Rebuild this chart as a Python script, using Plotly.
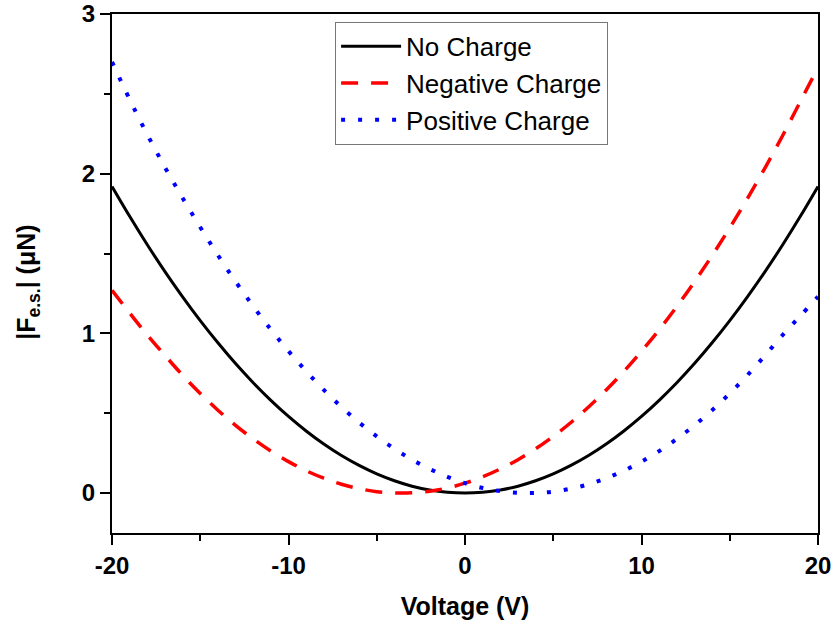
import plotly.graph_objects as go

voltage = list(range(-20, 21))
no_charge = [1.920, 1.733, 1.555, 1.387, 1.229, 1.080, 0.941, 0.811, 0.691, 0.581,
             0.480, 0.389, 0.307, 0.235, 0.173, 0.120, 0.077, 0.043, 0.019, 0.005,
             0.000,
             0.005, 0.019, 0.043, 0.077, 0.120, 0.173, 0.235, 0.307, 0.389, 0.480,
             0.581, 0.691, 0.811, 0.941, 1.080, 1.229, 1.387, 1.555, 1.733, 1.920]
negative_charge = [1.270, 1.128, 0.990, 0.862, 0.738, 0.624, 0.519, 0.424, 0.339, 0.263,
                   0.197, 0.140, 0.093, 0.055, 0.028, 0.009, 0.001, 0.002, 0.012, 0.032,
                   0.062,
                   0.102, 0.151, 0.209, 0.277, 0.355, 0.442, 0.539, 0.646, 0.762, 0.888,
                   1.023, 1.168, 1.323, 1.487, 1.661, 1.844, 2.037, 2.239, 2.452, 2.665]
positive_charge = [2.700, 2.465, 2.245, 2.040, 1.848, 1.665, 1.490, 1.325, 1.170, 1.024,
                   0.889, 0.763, 0.646, 0.539, 0.442, 0.355, 0.277, 0.209, 0.151, 0.102,
                   0.062,
                   0.032, 0.012, 0.002, 0.001, 0.009, 0.028, 0.055, 0.093, 0.140, 0.197,
                   0.263, 0.339, 0.424, 0.519, 0.624, 0.738, 0.862, 0.990, 1.110, 1.230]

x_ticks = [-20, -10, 0, 10, 20]
y_ticks = [0, 1, 2, 3]

fig = go.Figure()
fig.add_trace(go.Scatter(x=voltage, y=no_charge, mode="lines", name="No Charge",
                         line=dict(color="black", width=3, shape="spline")))
fig.add_trace(go.Scatter(x=voltage, y=negative_charge, mode="lines", name="Negative Charge",
                         line=dict(color="#ff0000", width=3.5, dash="17px,13px", shape="spline")))
fig.add_trace(go.Scatter(x=voltage, y=positive_charge, mode="lines", name="Positive Charge",
                         line=dict(color="#0000ff", width=4, dash="4px,13px", shape="spline")))

font_family = "Liberation Sans, Arial"
fig.update_layout(
    width=832, height=629,
    margin=dict(l=112, r=14, t=14, b=96, autoexpand=False),
    paper_bgcolor="white", plot_bgcolor="white",
    showlegend=True,
    legend=dict(x=0.316, y=0.985, xanchor="left", yanchor="top",
                bordercolor="#777777", borderwidth=1, bgcolor="white",
                font=dict(family=font_family, size=26, color="black"),
                tracegroupgap=0, itemwidth=60),
    font=dict(family=font_family, size=24, color="black"),
    annotations=[dict(text="<b>|F<sub>e.s.</sub>| (μN)</b>", textangle=-90,
                      xref="paper", yref="paper", x=-0.119, y=0.484,
                      xanchor="center", yanchor="middle", showarrow=False,
                      font=dict(family=font_family, size=25, color="black"))],
)
fig.update_xaxes(
    range=[-20, 20], tickmode="array", tickvals=x_ticks,
    ticktext=[f"<b>{v}</b>" for v in x_ticks],
    tickfont=dict(family=font_family, size=24, color="black"),
    ticks="outside", ticklen=10, tickwidth=2, tickcolor="black",
    minor=dict(tickvals=[-15, -5, 5, 15], ticks="outside", ticklen=6, tickwidth=2, tickcolor="black"),
    showline=True, linewidth=2, linecolor="black", mirror=True,
    showgrid=False, zeroline=False, automargin=False,
    title=dict(text="<b>Voltage (V)</b>", font=dict(family=font_family, size=25), standoff=20),
)
fig.update_yaxes(
    range=[-0.25, 3], tickmode="array", tickvals=y_ticks,
    ticktext=[f"<b>{v}</b>" for v in y_ticks],
    tickfont=dict(family=font_family, size=24, color="black"),
    ticks="outside", ticklen=10, tickwidth=2, tickcolor="black",
    minor=dict(tickvals=[0.5, 1.5, 2.5], ticks="outside", ticklen=6, tickwidth=2, tickcolor="black"),
    showline=True, linewidth=2, linecolor="black", mirror=True,
    showgrid=False, zeroline=False, automargin=False,
)

fig.write_html("out.html")
